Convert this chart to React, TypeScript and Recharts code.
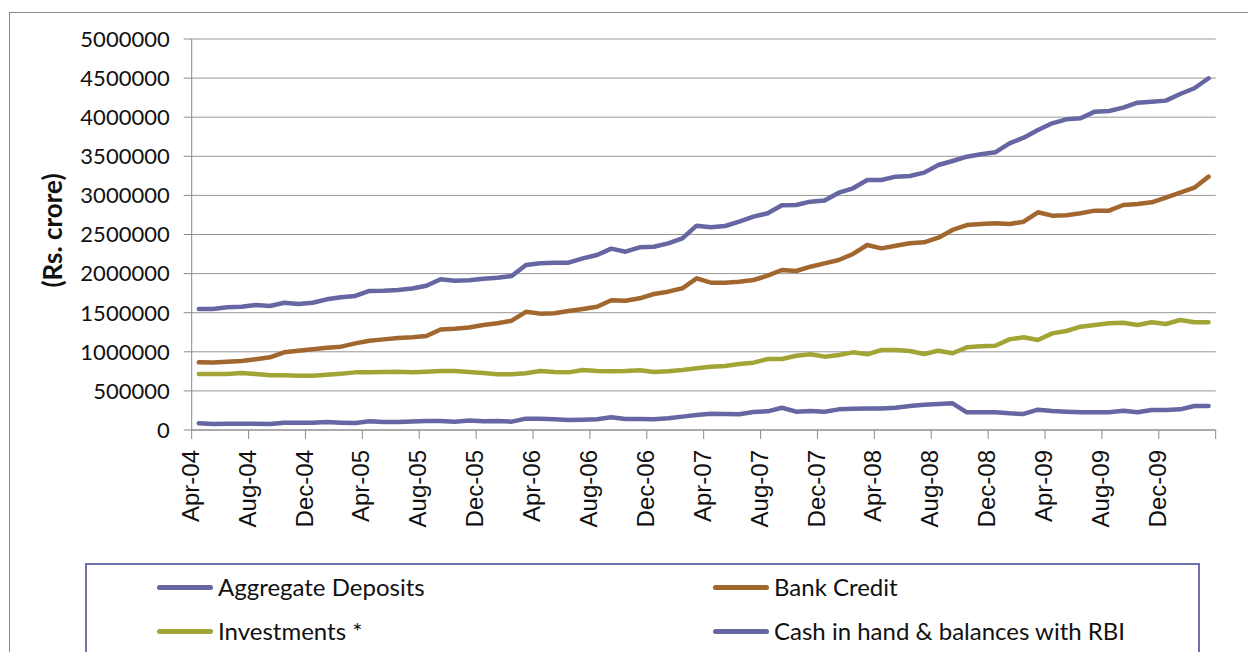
import { LineChart, Line, XAxis, YAxis, CartesianGrid } from 'recharts'

const MONTH_NAMES = ['Jan', 'Feb', 'Mar', 'Apr', 'May', 'Jun', 'Jul', 'Aug', 'Sep', 'Oct', 'Nov', 'Dec']

// Apr-04 .. Mar-10, one label per month
const months: string[] = Array.from({ length: 72 }, (_, i) => {
  const m = (3 + i) % 12
  const y = 4 + Math.floor((3 + i) / 12)
  return `${MONTH_NAMES[m]}-${String(y).padStart(2, '0')}`
})

const aggregateDeposits = [
  1547000, 1547000, 1569000, 1577000, 1598000, 1586000, 1628000, 1611000, 1628000, 1671000, 1697000, 1714000,
  1778000, 1781000, 1790000, 1810000, 1845000, 1927000, 1909000, 1914000, 1935000, 1948000, 1969000, 2110000,
  2131000, 2140000, 2140000, 2195000, 2238000, 2319000, 2280000, 2336000, 2344000, 2387000, 2451000, 2613000,
  2592000, 2609000, 2664000, 2728000, 2771000, 2874000, 2877000, 2920000, 2935000, 3035000, 3091000, 3197000,
  3197000, 3240000, 3248000, 3291000, 3389000, 3440000, 3495000, 3526000, 3551000, 3666000, 3738000, 3836000,
  3922000, 3973000, 3986000, 4071000, 4079000, 4122000, 4186000, 4199000, 4212000, 4297000, 4370000, 4498000
]

const bankCredit = [
  865000, 862000, 874000, 882000, 904000, 929000, 993000, 1014000, 1032000, 1053000, 1066000, 1108000,
  1142000, 1159000, 1176000, 1185000, 1202000, 1285000, 1295000, 1310000, 1343000, 1364000, 1398000, 1511000,
  1488000, 1492000, 1522000, 1547000, 1577000, 1660000, 1654000, 1684000, 1739000, 1769000, 1812000, 1940000,
  1884000, 1884000, 1897000, 1918000, 1973000, 2046000, 2033000, 2088000, 2131000, 2174000, 2251000, 2366000,
  2323000, 2357000, 2387000, 2400000, 2459000, 2558000, 2621000, 2634000, 2643000, 2634000, 2664000, 2784000,
  2741000, 2745000, 2771000, 2805000, 2805000, 2877000, 2890000, 2912000, 2971000, 3035000, 3099000, 3240000
]

const investments = [
  716000, 716000, 716000, 729000, 716000, 699000, 699000, 695000, 695000, 707000, 720000, 737000,
  737000, 742000, 746000, 740000, 746000, 754000, 754000, 742000, 729000, 712000, 712000, 725000,
  754000, 742000, 737000, 767000, 754000, 750000, 754000, 763000, 742000, 750000, 767000, 789000,
  810000, 818000, 844000, 861000, 908000, 908000, 950000, 968000, 938000, 959000, 993000, 968000,
  1023000, 1023000, 1010000, 972000, 1014000, 981000, 1057000, 1070000, 1078000, 1159000, 1185000, 1151000,
  1236000, 1266000, 1321000, 1343000, 1364000, 1372000, 1343000, 1377000, 1356000, 1407000, 1377000, 1377000
]

const cashAndBalances = [
  85000, 77000, 81000, 81000, 81000, 77000, 94000, 94000, 94000, 102000, 94000, 90000,
  111000, 102000, 102000, 108000, 115000, 115000, 107000, 120000, 111000, 115000, 107000, 145000,
  145000, 137000, 128000, 132000, 137000, 162000, 141000, 141000, 137000, 149000, 171000, 192000,
  209000, 205000, 201000, 230000, 239000, 285000, 234000, 243000, 234000, 264000, 273000, 275000,
  275000, 285000, 307000, 324000, 332000, 341000, 226000, 226000, 226000, 213000, 205000, 260000,
  243000, 234000, 226000, 226000, 226000, 247000, 226000, 256000, 256000, 264000, 307000, 307000
]

const yTicks = [0, 500000, 1000000, 1500000, 2000000, 2500000, 3000000, 3500000, 4000000, 4500000, 5000000]
const xTicks = Array.from({ length: 19 }, (_, i) => i * 4)

const series = [
  { key: 'deposits', name: 'Aggregate Deposits', color: '#6566A2', values: aggregateDeposits },
  { key: 'credit', name: 'Bank Credit', color: '#A2662F', values: bankCredit },
  { key: 'investments', name: 'Investments *', color: '#A2A436', values: investments },
  { key: 'cash', name: 'Cash in hand & balances with RBI', color: '#6566A2', values: cashAndBalances }
]

const chartData = months.map((m, i) => {
  const row: Record<string, number | string> = { x: i + 0.5, month: m }
  series.forEach((s) => {
    row[s.key] = s.values[i]
  })
  return row
})

const WIDTH = 1248
const HEIGHT = 652
const PLOT_LEFT = 191.7
const PLOT_RIGHT = 1215.7
const PLOT_TOP = 39
const PLOT_BOTTOM = 430
const X_AXIS_HEIGHT = 100
const HALF_BAND = (PLOT_RIGHT - PLOT_LEFT) / months.length / 2

function MonthTick(props: any) {
  const { x, y, payload } = props
  const label = months[payload.value]
  if (!label) return null
  return (
    <text
      transform={`translate(${x + HALF_BAND},${y}) rotate(-90)`}
      textAnchor="end"
      fontFamily="'Liberation Sans', Arial, sans-serif"
      fontSize={24}
      fill="#111"
    >
      {label}
    </text>
  )
}

function AxisTitle(props: any) {
  const { viewBox } = props
  const cy = viewBox.y + viewBox.height / 2 - 4
  return (
    <text
      transform={`translate(52,${cy}) rotate(-90)`}
      textAnchor="middle"
      dominantBaseline="central"
      fontFamily="Lato, sans-serif"
      fontWeight={700}
      fontSize={26}
      fill="#111"
    >
      (Rs. crore)
    </text>
  )
}

function LegendBox() {
  const cols = [157, 713]
  const rows = [587, 631]
  return (
    <>
      <div
        style={{
          position: 'absolute',
          left: 85,
          top: 563,
          width: 1111,
          height: 120,
          border: '2px solid #6F72A8'
        }}
      />
      {series.map((s, i) => {
        const left = cols[i % 2]
        const top = rows[Math.floor(i / 2)]
        return (
          <div key={s.key}>
            <div
              style={{
                position: 'absolute',
                left,
                top: top - 2.5,
                width: 56,
                height: 5,
                borderRadius: 3,
                background: s.color
              }}
            />
            <div
              style={{
                position: 'absolute',
                left: left + 61,
                top: top - 15,
                fontFamily: 'Lato, sans-serif',
                fontSize: 24,
                lineHeight: '30px',
                color: '#111',
                whiteSpace: 'nowrap'
              }}
            >
              {s.name}
            </div>
          </div>
        )
      })}
    </>
  )
}

export default function App() {
  return (
    <div
      style={{
        position: 'absolute',
        left: 0,
        top: 0,
        width: WIDTH,
        height: HEIGHT,
        overflow: 'hidden',
        background: '#fff'
      }}
    >
      <div
        style={{
          position: 'absolute',
          left: 9,
          top: 12,
          width: 1300,
          height: 700,
          border: '1px solid #8a8a8a'
        }}
      />
      <div style={{ position: 'absolute', left: 0, top: 0 }}>
        <LineChart
          width={WIDTH}
          height={HEIGHT}
          data={chartData}
          margin={{
            top: PLOT_TOP,
            right: WIDTH - PLOT_RIGHT,
            left: 0,
            bottom: HEIGHT - PLOT_BOTTOM - X_AXIS_HEIGHT
          }}
        >
          <CartesianGrid vertical={false} stroke="#969696" strokeWidth={1} />
          <XAxis
            type="number"
            dataKey="x"
            domain={[0, months.length]}
            ticks={xTicks}
            interval={0}
            height={X_AXIS_HEIGHT}
            stroke="#8a8a8a"
            tickSize={9}
            tickMargin={11}
            tick={<MonthTick />}
            allowDataOverflow
          />
          <YAxis
            type="number"
            domain={[0, 5000000]}
            ticks={yTicks}
            interval={0}
            width={PLOT_LEFT}
            stroke="#8a8a8a"
            tickSize={8}
            tickMargin={14}
            tick={{ fontFamily: 'Lato, sans-serif', fontSize: 22, fill: '#111' }}
            label={<AxisTitle />}
          />
          {series.map((s) => (
            <Line
              key={s.key}
              type="linear"
              dataKey={s.key}
              name={s.name}
              stroke={s.color}
              strokeWidth={4.5}
              dot={false}
              isAnimationActive={false}
              strokeLinejoin="round"
              strokeLinecap="round"
            />
          ))}
        </LineChart>
      </div>
      <LegendBox />
    </div>
  )
}
